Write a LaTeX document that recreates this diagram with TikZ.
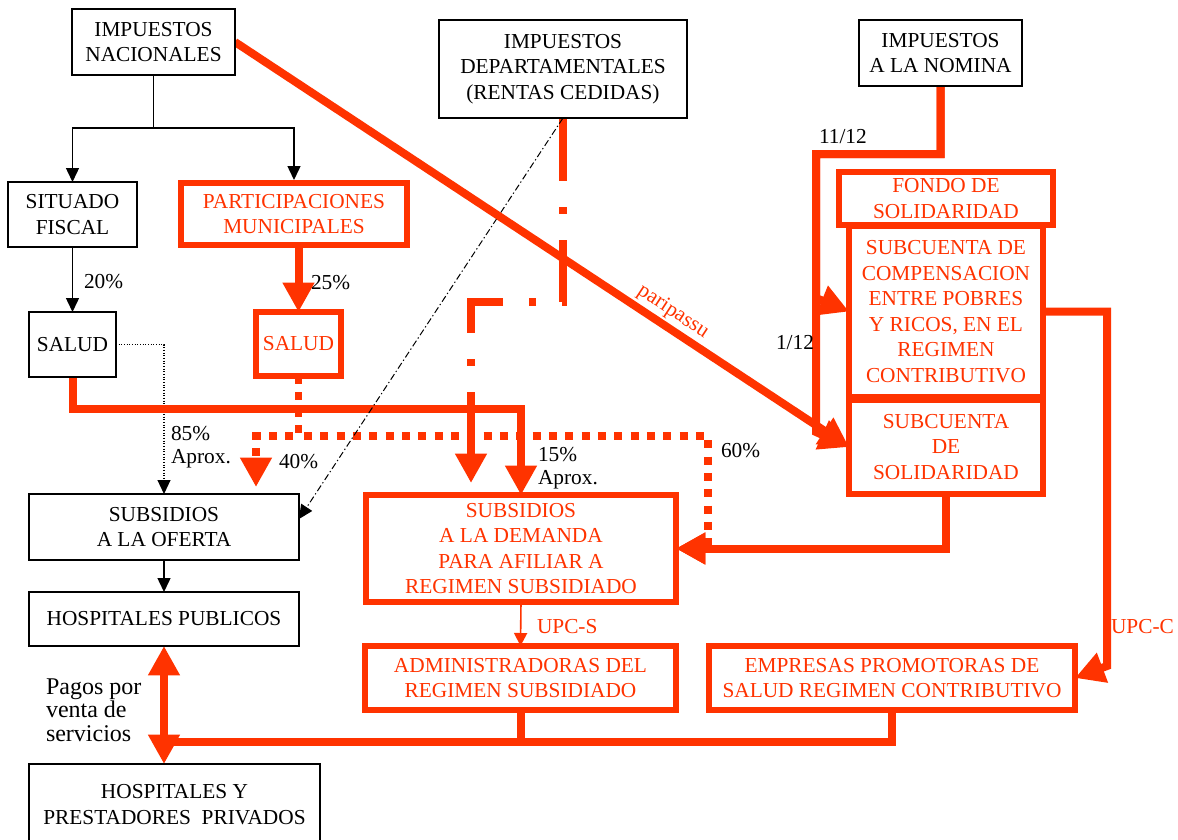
\documentclass[tikz,border=0pt]{standalone}
\usepackage{fontspec}
\setmainfont{Liberation Serif}
\usetikzlibrary{arrows.meta}
\definecolor{rojo}{RGB}{255,51,0}
\pgfdeclarelayer{bgzero}
\pgfdeclarelayer{background}
\pgfsetlayers{bgzero,background,main}
\begin{document}
\begin{tikzpicture}[x=0.75pt,y=-0.75pt,
  every node/.style={font=\fontsize{16}{19.2}\selectfont,align=center,inner sep=0pt,outer sep=0pt},
  bbox/.style={draw=black,line width=1.1pt,fill=white},
  rbox/.style={draw=rojo,line width=4.5pt,fill=white,text=rojo},
  bline/.style={draw=black,line width=1.1pt},
  rline/.style={draw=rojo,line width=6pt},
  rdot/.style={draw=rojo,line width=5.8pt,dash pattern=on 6pt off 6.25pt},
  rdashdot/.style={draw=rojo,line width=5.5pt,dash pattern=on 47.25pt off 19.5pt on 5.25pt off 19.5pt},
  bdashdot/.style={draw=black,line width=0.75pt,dash pattern=on 5pt off 2pt on 1pt off 2pt},
  bdotted/.style={draw=black,line width=0.8pt,dash pattern=on 0.8pt off 1.2pt},
  rthin/.style={draw=rojo,line width=1.2pt},
  lbl/.style={anchor=west,align=left},
  lbltwo/.style={anchor=west,align=left,font=\fontsize{16}{17.25}\selectfont},
  rtip/.tip={Triangle[length=22pt,width=22.5pt]},
  btip/.tip={Triangle[length=10.5pt,width=9.75pt]},
  stip/.tip={Triangle[length=9.75pt,width=9.75pt]},
]
\begin{pgfonlayer}{bgzero}
\fill[white] (0,0) rectangle (1178,839);
\end{pgfonlayer}
\useasboundingbox (0,0) rectangle (1178,839);

% black boxes
\node[bbox,minimum width=122.25pt,minimum height=49.5pt] (nac) at (153.5,42) {IMPUESTOS\\NACIONALES};
\node[bbox,minimum width=96.75pt,minimum height=48.75pt] (situado) at (72.5,214.5) {SITUADO\\FISCAL};
\node[bbox,minimum width=65.25pt,minimum height=48.75pt] (salud1) at (72.5,344.5) {SALUD};
\node[bbox,minimum width=186pt,minimum height=73.5pt] (dept) at (563,69) {IMPUESTOS\\DEPARTAMENTALES\\(RENTAS CEDIDAS)};
\node[bbox,minimum width=122.25pt,minimum height=49.5pt] (nomina) at (940.5,53) {IMPUESTOS\\A LA NOMINA};
\node[bbox,minimum width=202.5pt,minimum height=49.5pt] (oferta) at (164,527) {SUBSIDIOS\\A LA OFERTA};
\node[bbox,minimum width=202.5pt,minimum height=40.5pt] (hpub) at (164,619) {HOSPITALES PUBLICOS};
\node[bbox,minimum width=218.25pt,minimum height=60.75pt] (hpriv) at (174.5,804.5) {HOSPITALES Y\\PRESTADORES\ \ PRIVADOS};

% red boxes
\node[rbox,minimum width=169.5pt,minimum height=46.5pt] (partic) at (294,214) {PARTICIPACIONES\\MUNICIPALES};
\node[rbox,minimum width=63.75pt,minimum height=48pt] (salud2) at (298.5,344) {SALUD};
\node[rbox,minimum width=232.5pt,minimum height=80.25pt] (subdem) at (521,548.5) {SUBSIDIOS\\A LA DEMANDA\\PARA AFILIAR A\\REGIMEN SUBSIDIADO};
\node[rbox,minimum width=233.25pt,minimum height=48pt] (admin) at (520.5,678) {ADMINISTRADORAS DEL\\REGIMEN SUBSIDIADO};
\node[rbox,minimum width=274.5pt,minimum height=48pt] (empresas) at (892,678) {EMPRESAS PROMOTORAS DE\\SALUD REGIMEN CONTRIBUTIVO};
\node[rbox,minimum width=160.5pt,minimum height=39.75pt] (fondo) at (946,198.5) {FONDO DE\\SOLIDARIDAD};
\node[rbox,minimum width=145.5pt,minimum height=128.25pt] (subcomp) at (946,311.5) {SUBCUENTA DE\\COMPENSACION\\ENTRE POBRES\\Y RICOS, EN EL\\REGIMEN\\CONTRIBUTIVO};
\node[rbox,minimum width=145.5pt,minimum height=70.5pt] (subsol) at (946,447) {SUBCUENTA\\DE\\SOLIDARIDAD};

% labels
\node[lbl] (l20) at (84,282) {20\%};
\node[lbl] (l25) at (311,283) {25\%};
\node[lbltwo] (l85) at (171,447) {85\%\\Aprox.};
\node[lbl] (l40) at (279,462) {40\%};
\node[lbltwo] (l15) at (538,468) {15\%\\Aprox.};
\node[lbl] (l60) at (721,451) {60\%};
\node[lbl] (l1112) at (819,137) {11/12};
\node[lbl] (l112) at (776,343) {1/12};
\node[text=rojo,rotate=-33.4] (lpp) at (673,312) {paripassu};
\node[lbl,text=rojo] (lupcs) at (537,627) {UPC-S};
\node[lbl,text=rojo] (lupcc) at (1111,627) {UPC-C};
\node[lbl,font=\fontsize{18}{17.5}\selectfont] (lpagos) at (46,710) {Pagos por\\venta de\\servicios};

\coordinate (nj) at (153.5,128);
\coordinate (c40) at (256,487);
\coordinate (cdep) at (471,483);
\coordinate (cof) at (299,519);
\coordinate (hj) at (164,742);

\begin{pgfonlayer}{background}
\draw[bline] (nac.south) -- (nj);
\draw[bline,-{btip}] (nj) -| (situado.north);
\draw[bline,-{btip},shorten >=2.25pt] (nj) -| (partic.north);
\draw[bline,-{btip}] (situado.south) -- (salud1.north);
\draw[bdotted,-{btip}] (salud1.east) -| (oferta.north);
\draw[bline,-{btip}] (oferta.south) -- (hpub.north);
\draw[rline,-{rtip}] (partic.south -| salud2.north) -- (salud2.north);
\draw[rline,-{rtip}] (salud1.south) -- (72.5,409) -| (subdem.north);
\draw[rdot,-{rtip}] (salud2.south) -- (298.5,436) -| (c40);
\draw[rdot,-{rtip}] (salud2.south) -- (298.5,436) -- (708,436) |- (subdem.east);
\draw[rline,-{rtip}] (subsol.south) |- (subdem.east);
\draw[rdashdot,-{rtip}] (dept.south) -- (563,302) -| (cdep);
\draw[bdashdot,-{btip}] (dept.south) -- (cof);
\draw[rline,-{rtip}] (nac.east) -- (subsol.west);
\draw[rline,-{rtip}] (nomina.south) -- (940.5,154) -- (816,154) -- (816,298) -- (subcomp.west);
\draw[rline,-{rtip}] (nomina.south) -- (940.5,154) -- (816,154) -- (816,432) -- (subsol.west);
\draw[rline,-{rtip}] (subcomp.east) -- (1107,311.5) -- (1107,666) -- (empresas.east);
\draw[rthin,-{stip}] (subdem.south) -- (admin.north);
\draw[rline] (admin.south) |- (hj);
\draw[rline] (empresas.south) |- (hj);
\draw[rline,{rtip}-{rtip}] (hpub.south) -- (hpub.south |- hpriv.north);
\end{pgfonlayer}
\end{tikzpicture}
\end{document}
